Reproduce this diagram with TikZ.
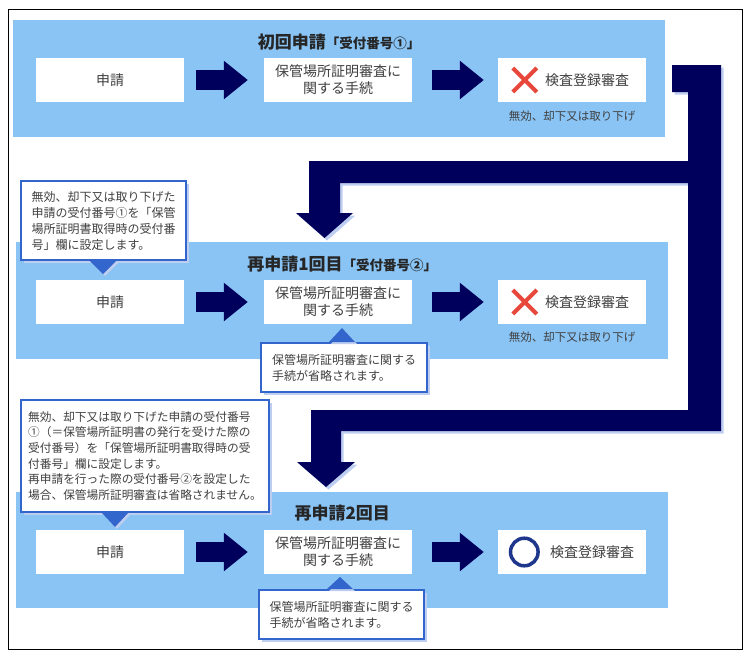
\documentclass[tikz,border=0pt]{standalone}
\usepackage{fontspec}
\setmainfont{Noto Sans CJK JP}
\usepackage{tikz}
\usetikzlibrary{calc,shadows,arrows.meta}
\definecolor{panelblue}{RGB}{137,196,245}
\definecolor{navy}{RGB}{0,0,92}
\definecolor{calloutblue}{RGB}{51,102,204}
\definecolor{shadowblue}{RGB}{190,206,240}
\definecolor{xred}{RGB}{232,72,60}
\definecolor{ringblue}{RGB}{30,55,140}
\definecolor{textgray}{RGB}{64,64,64}
\def\pointer[#1](#2)(#3){\fill[#1] ($(#2)+(-13,0)$) -- ($(#2)+(13,0)$) -- ($(#2)+(0,#3)$) -- cycle;}
\tikzset{
	panel/.style={fill=panelblue, inner sep=0, anchor=north west},
	titletext/.style={text=black!85, font=\fontsize{17}{20}\selectfont\bfseries},
	stepbox/.style={fill=white, inner sep=0, minimum width=148pt, minimum height=44pt, text=textgray, align=center, font=\fontsize{14}{17}\selectfont},
	flowarrow/.style={draw=navy, line width=20pt, -{Triangle[length=24pt,width=37pt]}},
	notetext/.style={text=textgray, font=\fontsize{11.5}{14}\selectfont},
	callout/.style={draw=calloutblue, line width=2pt, fill=white, inner sep=0, anchor=north west, align=left, text=textgray, font=\fontsize{12}{16}\selectfont, drop shadow={shadow xshift=2.5pt, shadow yshift=-2.5pt, fill=shadowblue, opacity=1}},
	callouttip/.style={fill=calloutblue, drop shadow={shadow xshift=2pt, shadow yshift=-2pt, fill=shadowblue, opacity=1}},
	xmark/.style={draw=xred, line width=4pt},
}
\begin{document}
\begin{tikzpicture}[x=1pt,y=-1pt]
	%%%%% START %%%%%
	\useasboundingbox (0,0) rectangle (752,654);
	\draw[line width=1pt] (8,9) rectangle (742,649);
	
	\node[panel, minimum width=652pt, minimum height=117pt] (p1) at (13,20) {};
	\node[panel, minimum width=652pt, minimum height=117pt] (p2) at (16,242) {};
	\node[panel, minimum width=652pt, minimum height=116pt] (p3) at (16,492) {};
	
	\node[titletext] at ([yshift=-22pt]p1.north) {初回申請{\fontsize{13.5}{16}\selectfont「受付番号①」}};
	\node[titletext] at ([yshift=-22pt]p2.north) {再申請1回目{\fontsize{13.5}{16}\selectfont「受付番号②」}};
	\node[titletext] at ([yshift=-21pt]p3.north) {再申請2回目};
	
	%% first application
	\node[stepbox] (r1a) at (110,80) {申請};
	\node[stepbox] (r1b) at (338,80) {保管場所証明審査に\\関する手続};
	\node[stepbox] (r1c) at (572,80) {\hspace{30pt}検査登録審査};
	\draw[flowarrow] ([xshift=12pt]r1a.east) -- ([xshift=-16pt]r1b.west);
	\draw[flowarrow] ([xshift=20pt]r1b.east) -- ([xshift=-14pt]r1c.west);
	\coordinate (x1) at ([xshift=27pt]r1c.west);
	\draw[xmark] ($(x1)+(-12,-12)$) -- ($(x1)+(12,12)$) ($(x1)+(-12,12)$) -- ($(x1)+(12,-12)$);
	\node[notetext] at ([yshift=-14pt]r1c.south) {無効、却下又は取り下げ};
	
	%% second application
	\node[stepbox] (r2a) at (110,302) {申請};
	\node[stepbox] (r2b) at (338,302) {保管場所証明審査に\\関する手続};
	\node[stepbox] (r2c) at (572,302) {\hspace{30pt}検査登録審査};
	\draw[flowarrow] ([xshift=12pt]r2a.east) -- ([xshift=-16pt]r2b.west);
	\draw[flowarrow] ([xshift=20pt]r2b.east) -- ([xshift=-14pt]r2c.west);
	\coordinate (x2) at ([xshift=27pt]r2c.west);
	\draw[xmark] ($(x2)+(-12,-12)$) -- ($(x2)+(12,12)$) ($(x2)+(-12,12)$) -- ($(x2)+(12,-12)$);
	\node[notetext] at ([yshift=-13pt]r2c.south) {無効、却下又は取り下げ};
	
	%% third application
	\node[stepbox] (r3a) at (110,552) {申請};
	\node[stepbox] (r3b) at (338,552) {保管場所証明審査に\\関する手続};
	\node[stepbox] (r3c) at (572,552) {\hspace{40pt}検査登録審査};
	\draw[flowarrow] ([xshift=12pt]r3a.east) -- ([xshift=-16pt]r3b.west);
	\draw[flowarrow] ([xshift=20pt]r3b.east) -- ([xshift=-14pt]r3c.west);
	\draw[draw=ringblue, line width=3.5pt] ([xshift=26.5pt]r3c.west) circle (13.8pt);
	
	%% elbow arrows on the right
	\fill[navy, drop shadow={shadow xshift=2.5pt, shadow yshift=-2.5pt, fill=shadowblue, opacity=1}]
		(672,65) -- (721,65) -- (721,431) -- (341,431) -- (341,462) -- (355,462) -- (326,487)
		-- (297,462) -- (311,462) -- (311,410) -- (688,410) -- (688,183) -- (340,183) -- (340,213)
		-- (353,213) -- (324.5,238) -- (296,213) -- (309,213) -- (309,161) -- (688,161) -- (688,92)
		-- (672,92) -- cycle;
	
	%% callouts
	\node[callout, minimum width=165pt, minimum height=79pt] (c1) at (20,180)
		{無効、却下又は取り下げた\\申請の受付番号①を「保管\\場所証明書取得時の受付番\\号」欄に設定します。};
	\coordinate (c1p) at ($(c1.south west)+(83,0)$);
	\pointer[callouttip](c1p)(13)
	
	\node[callout, minimum width=166pt, minimum height=49pt] (c2) at (260,342)
		{保管場所証明審査に関する\\手続が省略されます。};
	\coordinate (c2p) at ($(c2.north west)+(82,0)$);
	\pointer[callouttip](c2p)(-14)
	
	\node[callout, minimum width=248pt, minimum height=112pt, font=\fontsize{11.7}{15.7}\selectfont] (c3) at (20,399)
		{無効、却下又は取り下げた申請の受付番号\\①（＝保管場所証明書の発行を受けた際の\\受付番号）を「保管場所証明書取得時の受\\付番号」欄に設定します。\\再申請を行った際の受付番号②を設定した\\場合、保管場所証明審査は省略されません。};
	\coordinate (c3p) at ($(c3.south west)+(95,0)$);
	\pointer[callouttip](c3p)(14)
	
	\node[callout, minimum width=165pt, minimum height=49pt] (c4) at (258,589)
		{保管場所証明審査に関する\\手続が省略されます。};
	\coordinate (c4p) at ($(c4.north west)+(82,0)$);
	\pointer[callouttip](c4p)(-12)
	
	%%%%% END %%%%%
\end{tikzpicture}
\end{document}
